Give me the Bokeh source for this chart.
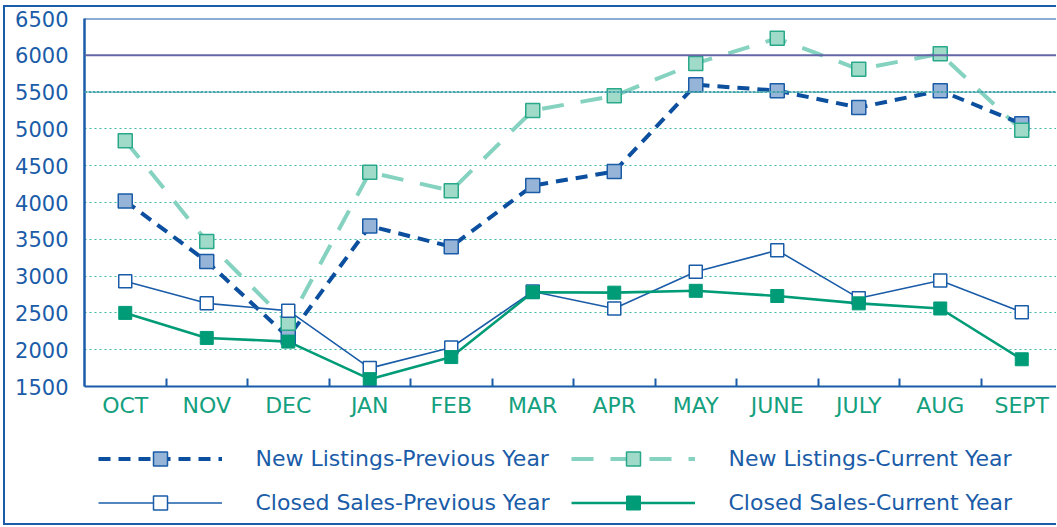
from bokeh.plotting import figure
from bokeh.models import (ColumnDataSource, Range1d, FixedTicker, Legend, LegendItem, Span)
from bokeh.layouts import column
from bokeh.embed import file_html
from bokeh.resources import INLINE

months = ["OCT", "NOV", "DEC", "JAN", "FEB", "MAR", "APR", "MAY", "JUNE", "JULY", "AUG", "SEPT"]
new_listings_prev = [4020, 3200, 2170, 3680, 3400, 4230, 4420, 5600, 5520, 5290, 5520, 5070]
new_listings_curr = [4840, 3470, 2360, 4410, 4160, 5250, 5450, 5890, 6230, 5810, 6020, 4980]
closed_sales_prev = [2930, 2630, 2530, 1750, 2030, 2790, 2560, 3060, 3350, 2700, 2940, 2510]
closed_sales_curr = [2500, 2160, 2110, 1600, 1900, 2780, 2775, 2800, 2730, 2630, 2560, 1870]
y_ticks = [1500, 2000, 2500, 3000, 3500, 4000, 4500, 5000, 5500, 6000, 6500]
highlight_levels = [6000, 5500]

BLUE = "#1a5ca8"
DARK_BLUE = "#0b4f9e"
GREEN = "#009b77"
LIGHT_TEAL = "#84d2bf"
GRID_TEAL = "#3fb9a3"
FONT = "DejaVu Sans"

STYLES = {
    "nlp_line": dict(line_color=DARK_BLUE, line_width=4, line_dash="12 8"),
    "nlc_line": dict(line_color=LIGHT_TEAL, line_width=4, line_dash="22 17"),
    "csp_line": dict(line_color=BLUE, line_width=1.6),
    "csc_line": dict(line_color=GREEN, line_width=2.6),
    "nlp_mark": dict(marker="square", size=14, fill_color="#95b4d7", line_color=BLUE, line_width=1.5),
    "nlc_mark": dict(marker="square", size=14, fill_color="#a0dbca", line_color="#2aa98a", line_width=1.5),
    "csp_mark": dict(marker="square", size=13, fill_color="white", line_color=BLUE, line_width=1.5),
    "csc_mark": dict(marker="square", size=13, fill_color=GREEN, line_color=GREEN, line_width=1),
}

idx = list(range(len(months)))
src = ColumnDataSource(dict(x=idx, nlp=new_listings_prev, nlc=new_listings_curr,
                            csp=closed_sales_prev, csc=closed_sales_curr))

p = figure(width=1051, height=413, output_backend="svg", toolbar_location=None,
           x_range=Range1d(-0.5, -0.5 + 972 / 81.5), y_range=Range1d(y_ticks[0], y_ticks[-1]),
           min_border_left=79, min_border_top=11, min_border_bottom=34, min_border_right=0)
p.background_fill_color = "white"
p.border_fill_color = "white"
p.outline_line_color = None

# axes
xa = p.xaxis[0]
xa.ticker = FixedTicker(ticks=idx, minor_ticks=[i + 0.5 for i in idx[:-1]])
xa.major_label_overrides = {i: m for i, m in enumerate(months)}
xa.major_tick_in = 0
xa.major_tick_out = 0
xa.minor_tick_in = 8
xa.minor_tick_out = 0
xa.minor_tick_line_color = BLUE
xa.minor_tick_line_width = 2
xa.axis_line_color = BLUE
xa.axis_line_width = 2
xa.major_label_text_color = "#14a07e"
xa.major_label_text_font = FONT
xa.major_label_text_font_size = "22px"
xa.major_label_standoff = 6

ya = p.yaxis[0]
ya.ticker = FixedTicker(ticks=y_ticks)
ya.major_tick_in = 0
ya.major_tick_out = 0
ya.minor_tick_line_color = None
ya.axis_line_color = BLUE
ya.axis_line_width = 2.5
ya.major_label_text_color = BLUE
ya.major_label_text_font = FONT
ya.major_label_text_font_size = "21px"
ya.major_label_standoff = 16

p.xgrid.grid_line_color = None
p.ygrid.grid_line_color = GRID_TEAL
p.ygrid.grid_line_width = 1
p.ygrid.grid_line_dash = "2 3"

p.add_layout(Span(location=y_ticks[-1], dimension="width", line_color=BLUE, line_width=2))
p.add_layout(Span(location=highlight_levels[0], dimension="width", line_color="#6466a8", line_width=2))
p.add_layout(Span(location=highlight_levels[1], dimension="width", line_color="#4aa6ae",
                  line_width=2, line_dash="3 1"))

# series
p.line("x", "nlc", source=src, **STYLES["nlc_line"])
p.line("x", "nlp", source=src, **STYLES["nlp_line"])
p.line("x", "csp", source=src, **STYLES["csp_line"])
p.line("x", "csc", source=src, **STYLES["csc_line"])
p.scatter("x", "nlp", source=src, **STYLES["nlp_mark"])
p.scatter("x", "nlc", source=src, **STYLES["nlc_mark"])
p.scatter("x", "csp", source=src, **STYLES["csp_mark"])
p.scatter("x", "csc", source=src, **STYLES["csc_mark"])

# legend panel: its own figure (the same series, scrolled out of view) so the
# legend is not clipped by the main plot frame
q = figure(width=1051, height=103, output_backend="svg", toolbar_location=None,
           x_range=Range1d(1000, 1001), y_range=Range1d(0, 1),
           min_border_left=0, min_border_right=0, min_border_top=0, min_border_bottom=0)
q.axis.visible = False
q.grid.grid_line_color = None
q.outline_line_color = None
q.background_fill_color = "white"
q.border_fill_color = "white"

labels = ["New Listings-Previous Year", "Closed Sales-Previous Year",
          "New Listings-Current Year", "Closed Sales-Current Year"]
keys = ["nlp", "csp", "nlc", "csc"]
items = []
for lab, k in zip(labels, keys):
    rl = q.line("x", k, source=src, **STYLES[k + "_line"])
    rm = q.scatter("x", k, source=src, **STYLES[k + "_mark"])
    items.append(LegendItem(label=lab, renderers=[rl, rm]))

legend = Legend(items=items, location=(13.5, 3), orientation="vertical", nrows=2,
                glyph_width=124, glyph_height=35, spacing=9, label_standoff=34, label_width=306,
                padding=0, margin=0, border_line_color=None, background_fill_alpha=0,
                label_text_font=FONT, label_text_font_size="22px", label_text_color=BLUE)
q.add_layout(legend, "center")

inner = column(p, q, spacing=0,
               styles={"border-left": "2.5px solid #1a5ca8", "border-top": "2.5px solid #1a5ca8",
                       "border-bottom": "2.5px solid #1a5ca8"})
layout = column(inner, styles={"padding-left": "3px", "padding-top": "5px"})

open("out.html", "w").write(file_html(layout, INLINE))
